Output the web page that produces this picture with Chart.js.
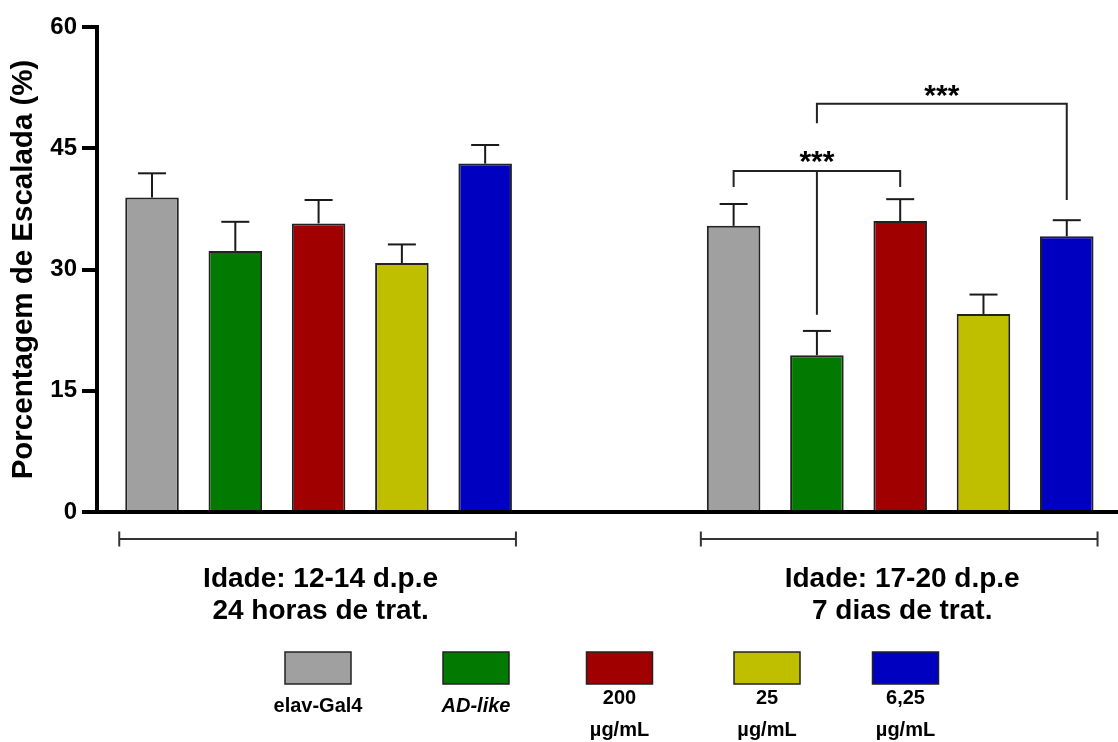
<!DOCTYPE html>
<html><head><meta charset="utf-8">
<script src="https://cdn.jsdelivr.net/npm/chart.js@4.4.0/dist/chart.umd.min.js"></script>
<style>html,body{margin:0;padding:0;background:#fff}#wrap{width:1118px;height:742px;position:relative}</style>
</head><body><div id="wrap"><canvas id="c"></canvas></div>
<script>
// ---- data ----
const groupLabels = [['Idade: 12-14 d.p.e', '24 horas de trat.'], ['Idade: 17-20 d.p.e', '7 dias de trat.']];
const seriesNames = ['elav-Gal4', 'AD-like', '200 µg/mL', '25 µg/mL', '6,25 µg/mL'];
const legendLines = [['elav-Gal4'], ['AD-like'], ['200', 'µg/mL'], ['25', 'µg/mL'], ['6,25', 'µg/mL']];
const seriesColors = ['#a0a0a0', '#027a02', '#a00000', '#bfbf00', '#0000c0'];
const elavGal4 = [38.9, 35.4];
const adLike = [32.3, 19.4];
const dose200 = [35.7, 36.0];
const dose25 = [30.8, 24.5];
const dose625 = [43.1, 34.1];
const elavGal4Err = [3.0, 2.7];
const adLikeErr = [3.6, 3.0];
const dose200Err = [2.9, 2.7];
const dose25Err = [2.3, 2.4];
const dose625Err = [2.3, 2.0];
const yTicks = [0, 15, 30, 45, 60];
// significance brackets (in group 2)
const sigText = ['***', '***'];
const sigGroup = [1, 1];
const sigFrom = [0, 1];
const sigTo = [2, 4];
const sigLine = [42.2, 50.5];
const sigLeftEnd = [40.2, 48.1];
const sigRightEnd = [40.2, 38.6];
const sigMidSeries = [1, null];
const sigMidEnd = [24.4, null];
const sigStarY = [44.0, 52.2];

const means = [elavGal4, adLike, dose200, dose25, dose625];
const errs = [elavGal4Err, adLikeErr, dose200Err, dose25Err, dose625Err];

// ---- layout constants ----
const FONT = '"Liberation Sans", Arial, Helvetica, sans-serif';
Chart.defaults.font.family = FONT;
const legendCenters = [318, 476, 619.5, 767, 905.5];

function line(ctx, x1, y1, x2, y2) { ctx.beginPath(); ctx.moveTo(x1, y1); ctx.lineTo(x2, y2); ctx.stroke(); }

const overlay = {
  id: 'overlay',
  afterDatasetsDraw(chart) {
    const ctx = chart.ctx, ys = chart.scales.y, area = chart.chartArea;
    const bar = (s, g) => chart.getDatasetMeta(s).data[g];
    ctx.save();
    // error bars
    ctx.strokeStyle = '#1a1a1a'; ctx.lineWidth = 2;
    means.forEach((arr, s) => arr.forEach((v, g) => {
      const b = bar(s, g);
      const y0 = ys.getPixelForValue(v), y1 = ys.getPixelForValue(v + errs[s][g]);
      line(ctx, b.x, y0, b.x, y1);
      line(ctx, b.x - 14, y1, b.x + 14, y1);
    }));
    // significance brackets
    ctx.strokeStyle = '#222'; ctx.lineWidth = 2;
    sigText.forEach((t, i) => {
      const g = sigGroup[i];
      const xa = bar(sigFrom[i], g).x, xb = bar(sigTo[i], g).x;
      const yl = ys.getPixelForValue(sigLine[i]);
      ctx.beginPath();
      ctx.moveTo(xa, ys.getPixelForValue(sigLeftEnd[i]));
      ctx.lineTo(xa, yl); ctx.lineTo(xb, yl);
      ctx.lineTo(xb, ys.getPixelForValue(sigRightEnd[i]));
      ctx.stroke();
      if (sigMidSeries[i] !== null) {
        const xm = bar(sigMidSeries[i], g).x;
        line(ctx, xm, yl, xm, ys.getPixelForValue(sigMidEnd[i]));
      }
      ctx.fillStyle = '#000';
      ctx.font = 'bold 30px ' + FONT;
      ctx.textAlign = 'center'; ctx.textBaseline = 'alphabetic';
      ctx.fillText(t, (xa + xb) / 2, ys.getPixelForValue(sigStarY[i]) + 15);
    });
    // group brackets and labels below axis
    ctx.strokeStyle = '#333'; ctx.lineWidth = 2;
    groupLabels.forEach((lines, g) => {
      const b0 = bar(0, g), b4 = bar(4, g);
      const x1 = b0.x - b0.width / 2 - 6, x2 = b4.x + b4.width / 2 + 4;
      const yb = area.bottom + 27;
      line(ctx, x1, yb, x2, yb);
      line(ctx, x1, yb - 7.5, x1, yb + 7.5);
      line(ctx, x2, yb - 7.5, x2, yb + 7.5);
      ctx.fillStyle = '#000';
      ctx.font = 'bold 28px ' + FONT;
      ctx.textAlign = 'center'; ctx.textBaseline = 'middle';
      const cx = (x1 + x2) / 2 + 3;
      lines.forEach((l, k) => ctx.fillText(l, cx, area.bottom + 67 + k * 32));
    });
    // legend
    seriesNames.forEach((name, s) => {
      const cx = legendCenters[s];
      ctx.fillStyle = seriesColors[s];
      ctx.fillRect(cx - 33, 652, 66, 32);
      ctx.strokeStyle = '#222'; ctx.lineWidth = 1.5;
      ctx.strokeRect(cx - 33, 652, 66, 32);
      ctx.fillStyle = '#000';
      ctx.textAlign = 'center'; ctx.textBaseline = 'middle';
      ctx.font = (s === 1 ? 'italic ' : '') + 'bold 20px ' + FONT;
      const ll = legendLines[s];
      if (ll.length === 1) ctx.fillText(ll[0], cx, 706);
      else ll.forEach((l, k) => ctx.fillText(l, cx, 698 + k * 32));
    });
    ctx.restore();
  }
};

const datasets = means.map((arr, s) => ({
  label: seriesNames[s],
  data: arr.map((v, g) => ({ x: g, y: v })),
  backgroundColor: seriesColors[s],
  borderColor: '#222',
  borderWidth: 2,
  borderSkipped: 'bottom',
  categoryPercentage: 0.716,
  barPercentage: 0.643
}));

new Chart(document.getElementById('c'), {
  type: 'bar',
  data: { datasets },
  options: {
    responsive: true,
    maintainAspectRatio: false,
    animation: false,
    devicePixelRatio: 1,
    layout: { padding: { top: 27, bottom: 230, left: 0, right: 0 } },
    plugins: { legend: { display: false }, tooltip: { enabled: false } },
    scales: {
      x: {
        type: 'linear',
        offset: false,
        min: -0.381,
        max: 1.3745,
        afterBuildTicks: a => { a.ticks = [{ value: 0 }, { value: 1 }]; },
        afterFit: a => { a.height = 0; },
        grid: { display: false, drawTicks: false },
        ticks: { display: false },
        border: { display: true, color: '#000', width: 4 }
      },
      y: {
        min: 0,
        max: 60,
        afterBuildTicks: a => { a.ticks = yTicks.map(v => ({ value: v })); },
        afterFit: a => { a.width = 97; },
        grid: { drawOnChartArea: false, drawTicks: true, tickLength: 15, lineWidth: 4, color: '#000' },
        border: { display: true, color: '#000', width: 4 },
        ticks: { color: '#000', font: { size: 24, weight: 'bold' }, padding: 5 },
        title: { display: true, text: 'Porcentagem de Escalada (%)', color: '#000', font: { size: 29.5, weight: 'bold' }, padding: { top: 6, bottom: 0 } }
      }
    }
  },
  plugins: [overlay]
});
</script>
</body></html>
